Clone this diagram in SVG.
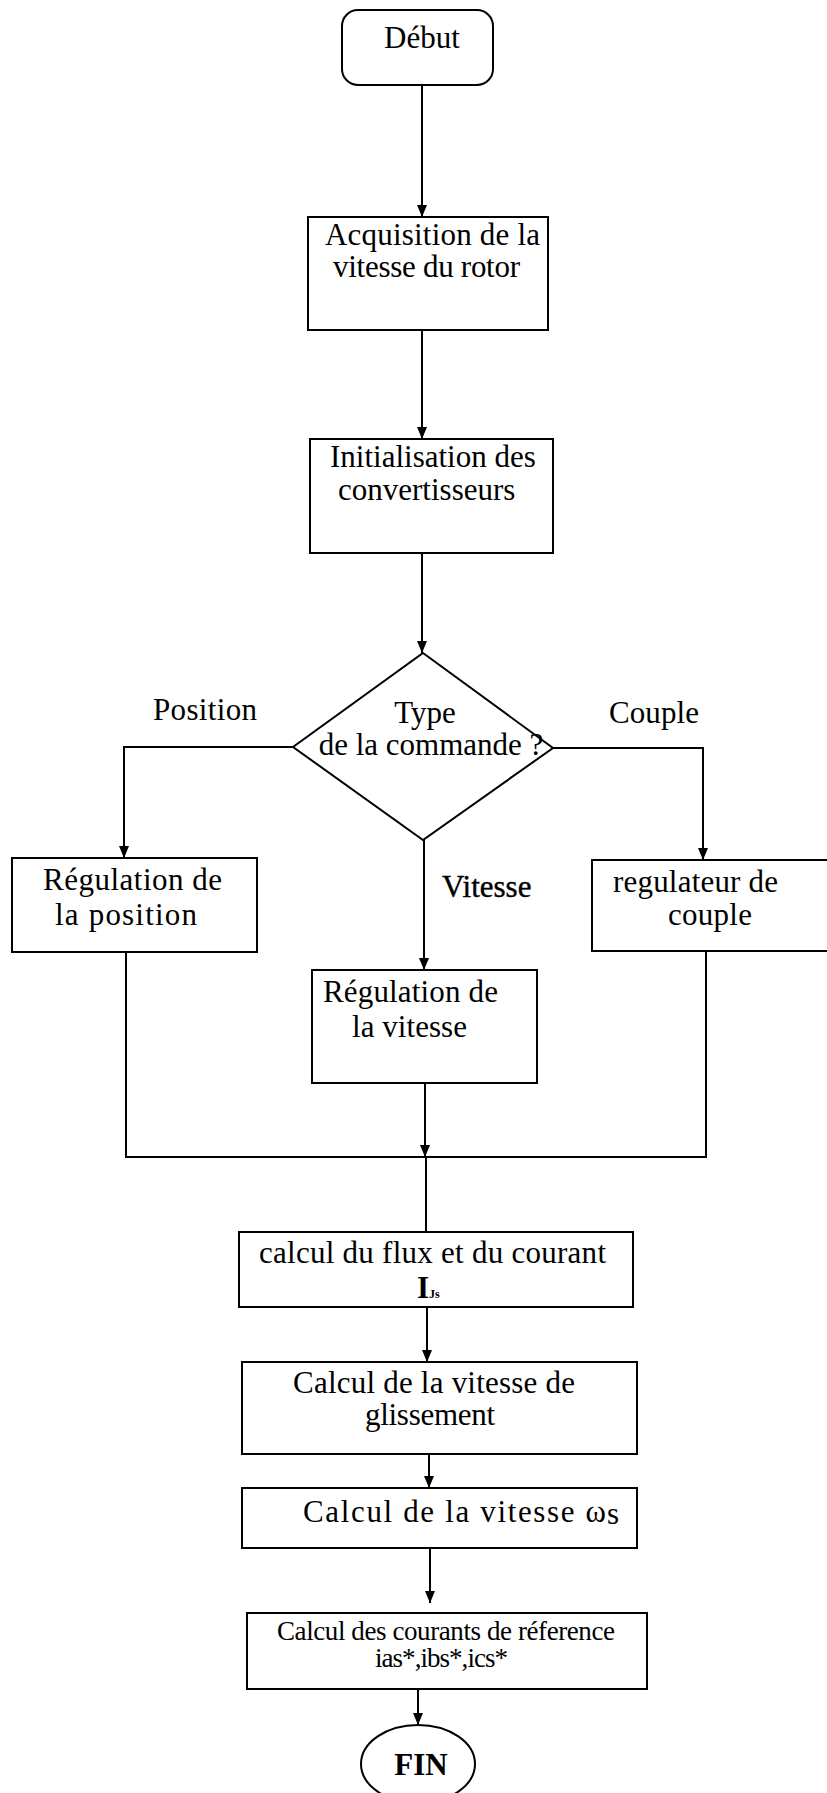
<svg xmlns="http://www.w3.org/2000/svg" width="827" height="1793" viewBox="0 0 827 1793">
  <style>
    .box { fill: #fff; stroke: #000; stroke-width: 2; }
    .wire { fill: none; stroke: #000; stroke-width: 2; }
    .t { font-family: "Liberation Serif", "Times New Roman", serif; fill: #000; font-size: 31px; }
    .s { font-size: 27px; }
    .lbl { font-family: "Liberation Serif", "Times New Roman", serif; fill: #000; font-size: 31px; }
  </style>
  <defs>
    <marker id="arrow" markerUnits="userSpaceOnUse" markerWidth="12" markerHeight="10" refX="12" refY="5" orient="auto">
      <path d="M0,0 L12,5 L0,10 z" fill="#000"/>
    </marker>
  </defs>

  <rect width="827" height="1793" fill="#fff"/>

  <!-- connectors -->
  <g id="connectors">
    <line class="wire" x1="422" y1="85" x2="422" y2="217" marker-end="url(#arrow)"/>
    <line class="wire" x1="422" y1="330" x2="422" y2="439" marker-end="url(#arrow)"/>
    <line class="wire" x1="422" y1="553" x2="422" y2="653" marker-end="url(#arrow)"/>
    <polyline class="wire" points="293,747 124,747 124,858" marker-end="url(#arrow)"/>
    <polyline class="wire" points="553,748 703,748 703,860" marker-end="url(#arrow)"/>
    <line class="wire" x1="424" y1="840" x2="424" y2="970" marker-end="url(#arrow)"/>
    <polyline class="wire" points="126,952 126,1157 706,1157 706,951"/>
    <line class="wire" x1="425" y1="1083" x2="425" y2="1157" marker-end="url(#arrow)"/>
    <line class="wire" x1="426" y1="1157" x2="426" y2="1232"/>
    <line class="wire" x1="427" y1="1307" x2="427" y2="1362" marker-end="url(#arrow)"/>
    <line class="wire" x1="429" y1="1454" x2="429" y2="1488" marker-end="url(#arrow)"/>
    <line class="wire" x1="430" y1="1548" x2="430" y2="1603" marker-end="url(#arrow)"/>
    <line class="wire" x1="418" y1="1689" x2="418" y2="1725" marker-end="url(#arrow)"/>
  </g>

  <!-- branch labels -->
  <g id="branch-labels">
    <text class="lbl" x="153" y="720" textLength="104">Position</text>
    <text class="lbl" x="609" y="723" textLength="90">Couple</text>
    <text class="lbl" x="442" y="897" font-size="19" stroke="#000" stroke-width="0.4">Vitesse</text>
  </g>

  <g id="debut">
    <rect class="box" x="342" y="10" width="151" height="75" rx="16"/>
    <text class="t" x="422" y="48" font-size="37" text-anchor="middle">Début</text>
  </g>

  <g id="acquisition">
    <rect class="box" x="308" y="217" width="240" height="113"/>
    <text class="t" x="325" y="245" textLength="215">Acquisition de la</text>
    <text class="t" x="333" y="277" textLength="187">vitesse du rotor</text>
  </g>

  <g id="initialisation">
    <rect class="box" x="310" y="439" width="243" height="114"/>
    <text class="t" x="330" y="467" font-size="28">Initialisation des</text>
    <text class="t" x="338" y="500" font-size="28">convertisseurs</text>
  </g>

  <g id="type-commande">
    <polygon class="box" points="423,653 553,748 423,840 293,747"/>
    <text class="t" x="425" y="723" font-size="27" text-anchor="middle">Type</text>
    <text class="t" x="431" y="755" font-size="27" text-anchor="middle">de la commande ?</text>
  </g>

  <g id="regulation-position">
    <rect class="box" x="12" y="858" width="245" height="94"/>
    <text class="t" x="43" y="890" textLength="179">Régulation de</text>
    <text class="t" x="55" y="925" textLength="142">la  position</text>
  </g>

  <g id="regulateur-couple">
    <rect class="box" x="592" y="860" width="250" height="91"/>
    <text class="t" x="613" y="892" textLength="165">regulateur de</text>
    <text class="t" x="668" y="925" textLength="84">couple</text>
  </g>

  <g id="regulation-vitesse">
    <rect class="box" x="312" y="970" width="225" height="113"/>
    <text class="t" x="323" y="1002" textLength="175">Régulation de</text>
    <text class="t" x="352" y="1037" textLength="115">la vitesse</text>
  </g>

  <g id="calcul-flux">
    <rect class="box" x="239" y="1232" width="394" height="75"/>
    <text class="t" x="259" y="1263" textLength="347">calcul du flux et du courant</text>
    <text class="t" x="417" y="1298" font-size="22" font-weight="bold">I<tspan font-size="12">Js</tspan></text>
  </g>

  <g id="calcul-glissement">
    <rect class="box" x="242" y="1362" width="395" height="92"/>
    <text class="t" x="293" y="1393" textLength="282">Calcul de la vitesse de</text>
    <text class="t" x="365" y="1425" textLength="130">glissement</text>
  </g>

  <g id="calcul-ws">
    <rect class="box" x="242" y="1488" width="395" height="60"/>
    <text class="t" x="303" y="1522" font-size="34" textLength="303">Calcul  de la vitesse ω</text>
    <text class="t" x="607" y="1524" font-size="13">s</text>
  </g>

  <g id="calcul-courants">
    <rect class="box" x="247" y="1613" width="400" height="76"/>
    <text class="t s" x="277" y="1640" textLength="338">Calcul des courants de réference</text>
    <text class="t s" x="375" y="1667" textLength="133">ias*,ibs*,ics*</text>
  </g>

  <g id="fin">
    <ellipse class="box" cx="418" cy="1764" rx="57" ry="39"/>
    <text class="t" x="421" y="1775" font-size="28" font-weight="bold" text-anchor="middle">FIN</text>
  </g>
</svg>
